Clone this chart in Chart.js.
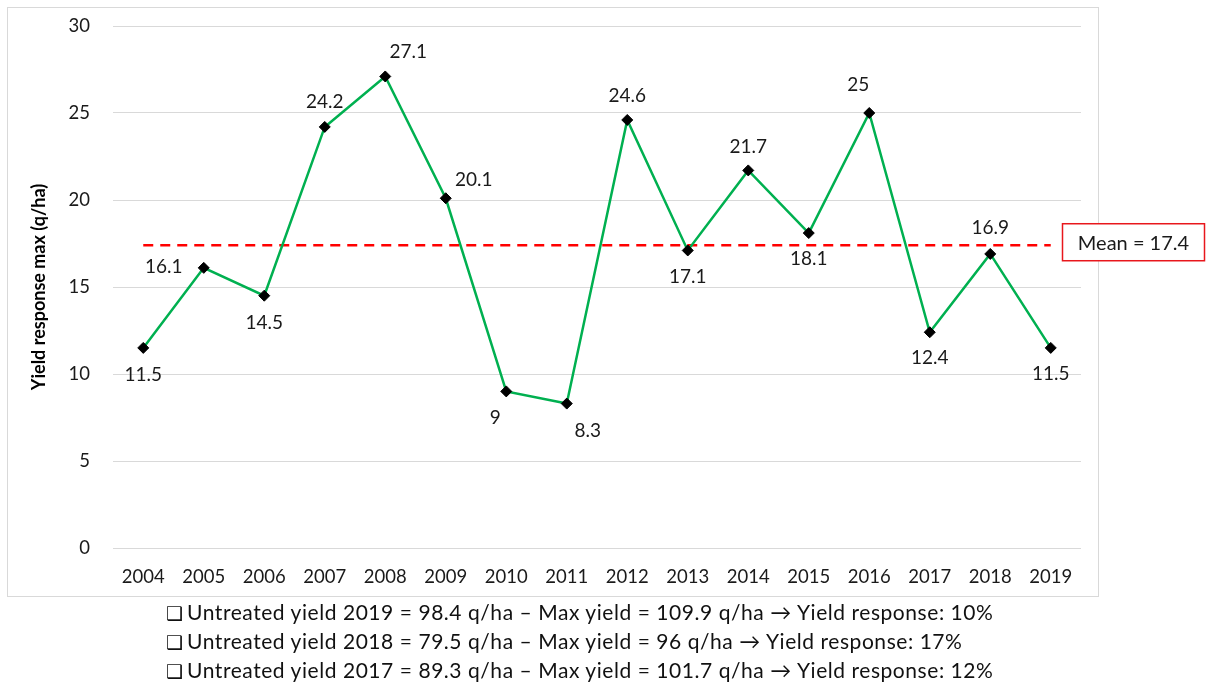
<!DOCTYPE html>
<html>
<head>
<meta charset="utf-8">
<script src="https://cdn.jsdelivr.net/npm/chart.js@4/dist/chart.umd.min.js"></script>
<style>
  html, body { margin: 0; padding: 0; background: #fff; }
  #wrap { position: relative; width: 1206px; height: 683px; }
  #c { position: absolute; left: 0; top: 0; }
  #notes { position: absolute; left: 166px; top: 597px; font-family: Lato, sans-serif; font-size: 21px; letter-spacing: 0.55px; color: #111; }
  #notes div { white-space: nowrap; height: 29px; line-height: 29px; }
  .box { font-family: "DejaVu Sans", sans-serif; font-size: 19px; margin-right: 4px; line-height: 29px; letter-spacing: 0; }
</style>
</head>
<body>
<div id="wrap">
  <canvas id="c" width="1206" height="683"></canvas>
  <div id="notes"></div>
</div>
<script>
// ---- data ----
const years = ['2004','2005','2006','2007','2008','2009','2010','2011','2012','2013','2014','2015','2016','2017','2018','2019'];
const yieldResponse = [11.5, 16.1, 14.5, 24.2, 27.1, 20.1, 9, 8.3, 24.6, 17.1, 21.7, 18.1, 25, 12.4, 16.9, 11.5];
const meanValue = 17.4;
const meanLabel = 'Mean = 17.4';
const yAxisTitle = 'Yield response max (q/ha)';
const notes = [
  'Untreated yield 2019 = 98.4 q/ha \u2013 Max yield = 109.9 q/ha \u2192 Yield response: 10%',
  'Untreated yield 2018 = 79.5 q/ha \u2013 Max yield = 96 q/ha \u2192 Yield response: 17%',
  'Untreated yield 2017 = 89.3 q/ha \u2013 Max yield = 101.7 q/ha \u2192 Yield response: 12%'
];
// label placement (style): offsets in px from each point
const labelOffsets = [
  [0, 27], [-40, -1], [0, 27], [0, -25], [23, -25], [28, -18], [-11, 26], [21, 27],
  [0, -24], [0, 26], [0, -24], [0, 26], [-11, -28], [0, 26], [0, -26], [0, 26]
];

const notesEl = document.getElementById('notes');
notes.forEach(t => {
  const d = document.createElement('div');
  d.innerHTML = '<span class="box">\u2751</span>' + t.replace(/&/g,'&amp;');
  notesEl.appendChild(d);
});

const TXT = '#1a1a1a';
const FONT = 'Lato, sans-serif';

const decor = {
  id: 'decor',
  beforeDraw(chart) {
    const ctx = chart.ctx;
    ctx.save();
    ctx.fillStyle = '#fff';
    ctx.fillRect(0, 0, chart.width, chart.height);
    ctx.strokeStyle = '#d9d9d9';
    ctx.lineWidth = 1;
    ctx.strokeRect(7.5, 7.5, 1091, 589);
    ctx.restore();
  },
  afterDatasetsDraw(chart) {
    const ctx = chart.ctx;
    const meta = chart.getDatasetMeta(0);
    ctx.save();
    ctx.font = '19px ' + FONT;
    ctx.fillStyle = TXT;
    ctx.textAlign = 'center';
    ctx.textBaseline = 'middle';
    meta.data.forEach((pt, i) => {
      const o = labelOffsets[i];
      ctx.fillText(String(yieldResponse[i]), pt.x + o[0], pt.y + o[1]);
    });
    // mean box
    const y = chart.scales.y.getPixelForValue(meanValue) - 3;
    const bx = 1062.5, bw = 142, bh = 37;
    ctx.fillStyle = '#fff';
    ctx.fillRect(bx, y - bh / 2, bw, bh);
    ctx.strokeStyle = '#e8171c';
    ctx.lineWidth = 1.5;
    ctx.strokeRect(bx, y - bh / 2, bw, bh);
    ctx.fillStyle = TXT;
    ctx.font = '20px ' + FONT;
    ctx.fillText(meanLabel, bx + bw / 2, y + 1);
    ctx.restore();
  }
};

new Chart(document.getElementById('c'), {
  type: 'line',
  data: {
    labels: years,
    datasets: [
      {
        data: yieldResponse,
        borderColor: '#00b050',
        borderWidth: 2.5,
        pointStyle: 'rectRot',
        pointRadius: 5.5,
        pointBackgroundColor: '#000',
        pointBorderColor: '#000',
        pointBorderWidth: 1,
        tension: 0,
        order: 1
      },
      {
        data: years.map(() => meanValue),
        borderColor: '#ff0000',
        borderWidth: 2.5,
        borderDash: [10, 7],
        pointRadius: 0,
        order: 2
      }
    ]
  },
  options: {
    responsive: false,
    animation: false,
    devicePixelRatio: 1,
    layout: { padding: { left: 20, top: 26, right: 125, bottom: 87 } },
    plugins: { legend: { display: false }, tooltip: { enabled: false } },
    scales: {
      x: {
        offset: true,
        grid: { display: false, drawTicks: false },
        border: { display: false },
        ticks: { color: TXT, font: { family: FONT, size: 18.5 }, padding: 18, maxRotation: 0, autoSkip: false },
        afterFit(s) { s.height = 48; }
      },
      y: {
        min: 0, max: 30,
        ticks: { stepSize: 5, color: TXT, font: { family: FONT, size: 18.5 }, padding: 3 },
        grid: { color: '#d9d9d9', lineWidth: 1, drawTicks: true, tickLength: 20, tickColor: 'rgba(0,0,0,0)' },
        border: { display: false },
        title: { display: true, text: yAxisTitle, color: '#000', font: { family: FONT, size: 18, weight: 'bold' }, padding: { top: 8, bottom: 0 } },
        afterFit(s) { s.width = 93; }
      }
    }
  },
  plugins: [decor]
});
</script>
</body>
</html>
